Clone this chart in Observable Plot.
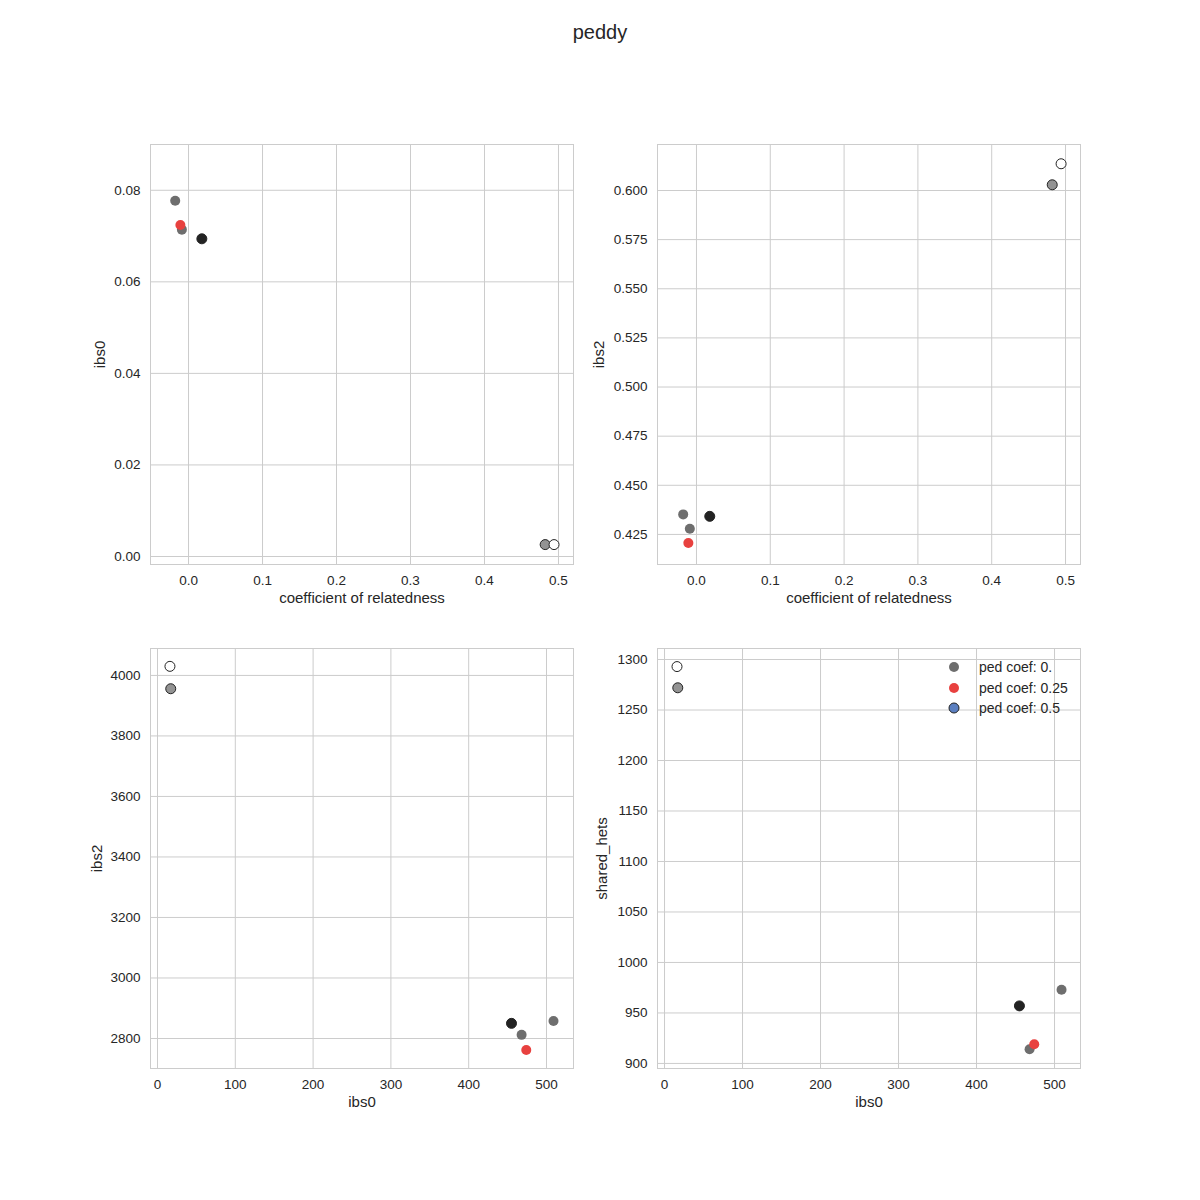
<!DOCTYPE html>
<html>
<head>
<meta charset="utf-8">
<script src="https://cdn.jsdelivr.net/npm/d3@7"></script>
<script src="https://cdn.jsdelivr.net/npm/@observablehq/plot@0.6"></script>
<style>
  body { margin: 0; background: #fff; font-family: "Liberation Sans", Arial, sans-serif; }
  #wrap { position: relative; width: 1200px; height: 1200px; overflow: hidden; }
  #title { position: absolute; top: 20px; left: 0; width: 1200px; text-align: center; font-size: 20px; line-height: 24px; color: #262626; }
  .panel { position: absolute; }
  .legend { position: absolute; font-size: 14px; color: #262626; }
  .legend .row { position: absolute; white-space: nowrap; height: 20px; line-height: 20px; }
  .legend svg { position: absolute; left: 0; top: 0; }
  .legend span { position: absolute; left: 31px; top: 0; }
</style>
</head>
<body>
<div id="wrap">
  <div id="title">peddy</div>
</div>
<script>
// ---------------- data ----------------
const samplePairs  = ["pair1", "pair2", "pair3", "pair4", "pair5", "pair6"];
const pedCoef      = ["0.", "0.", "0.25", "0.5", "0.5", "0.5"];
const relatedness  = [-0.018, -0.009, -0.011, 0.018, 0.482, 0.494];
const ibs0Frac     = [0.0777, 0.0714, 0.0724, 0.0694, 0.0026, 0.0026];
const ibs2Frac     = [0.4352, 0.4279, 0.4206, 0.4342, 0.6029, 0.6136];
const ibs0Count    = [509, 468, 474, 455, 17, 16];
const ibs2Count    = [2858, 2812, 2762, 2850, 3956, 4030];
const sharedHets   = [973, 914, 919, 957, 1272, 1293];

const legendLabels = ["ped coef: 0.", "ped coef: 0.25", "ped coef: 0.5"];

const ticksRel     = [0, 0.1, 0.2, 0.3, 0.4, 0.5];
const ticksIbs0Fr  = [0, 0.02, 0.04, 0.06, 0.08];
const ticksIbs2Fr  = [0.425, 0.45, 0.475, 0.5, 0.525, 0.55, 0.575, 0.6];
const ticksIbs0Ct  = [0, 100, 200, 300, 400, 500];
const ticksIbs2Ct  = [2800, 3000, 3200, 3400, 3600, 3800, 4000];
const ticksHets    = [900, 950, 1000, 1050, 1100, 1150, 1200, 1250, 1300];

// ---------------- table ----------------
const rows = samplePairs.map((s, i) => ({
  pair: s, ped: pedCoef[i], rel: relatedness[i],
  ibs0f: ibs0Frac[i], ibs2f: ibs2Frac[i],
  ibs0: ibs0Count[i], ibs2: ibs2Count[i], hets: sharedHets[i]
}));
const plain = rows.filter(d => d.ped !== "0.5");
const edged = rows.filter(d => d.ped === "0.5");

const pairColors = ["#6e6e6e", "#6e6e6e", "#e8413f", "#232323", "#939393", "#ffffff"];
const legendFill = ["#6e6e6e", "#e8413f", "#5b7fc0"];
const legendStroke = [null, null, "#232323"];
const grid = "#cccccc";
const ink = "#262626";

function panel(o) {
  const chart = Plot.plot({
    width: 600, height: 520,
    marginLeft: o.ml, marginRight: 600 - o.ml - 423, marginTop: 44, marginBottom: 56,
    style: { fontFamily: '"Liberation Sans", Arial, sans-serif', fontSize: "13.5px", color: ink, background: "transparent", overflow: "visible" },
    x: { domain: o.xDomain, ticks: o.xTicks, tickFormat: o.xFmt, tickSize: 0, tickPadding: 11, label: null },
    y: { domain: o.yDomain, ticks: o.yTicks, tickFormat: o.yFmt, tickSize: 0, tickPadding: 10, label: null },
    color: { type: "ordinal", domain: samplePairs, range: pairColors },
    marks: [
      Plot.gridX(o.xTicks, { stroke: grid, strokeOpacity: 1, strokeWidth: 1 }),
      Plot.gridY(o.yTicks, { stroke: grid, strokeOpacity: 1, strokeWidth: 1 }),
      Plot.frame({ stroke: grid, strokeWidth: 1 }),
      Plot.dot(plain, { x: o.x, y: o.y, fill: "pair", r: 5 }),
      Plot.dot(edged, { x: o.x, y: o.y, fill: "pair", r: 5, stroke: "#232323", strokeWidth: 1 }),
      Plot.text([o.xLabel], { frameAnchor: "bottom", textAnchor: "middle", lineAnchor: "middle", dy: 34, fontSize: 15, fill: ink }),
      Plot.text([o.yLabel], { frameAnchor: "left", textAnchor: "middle", lineAnchor: "middle", dx: o.ylDx, rotate: -90, fontSize: 15, fill: ink })
    ]
  });
  const div = document.createElement("div");
  div.className = "panel";
  div.style.left = o.left + "px";
  div.style.top = o.top + "px";
  div.appendChild(chart);
  document.getElementById("wrap").appendChild(div);
}

const f1 = d3.format(".1f"), f2 = d3.format(".2f"), f3 = d3.format(".3f"), fd = d3.format("d");

panel({ left: 0, top: 100, ml: 150, x: "rel", y: "ibs0f",
  xDomain: [-0.0514, 0.5203], yDomain: [-0.00175, 0.0900],
  xTicks: ticksRel, yTicks: ticksIbs0Fr, xFmt: f1, yFmt: f2,
  xLabel: "coefficient of relatedness", yLabel: "ibs0", ylDx: -50 });

panel({ left: 600, top: 100, ml: 57, x: "rel", y: "ibs2f",
  xDomain: [-0.0528, 0.5203], yDomain: [0.4097, 0.6234],
  xTicks: ticksRel, yTicks: ticksIbs2Fr, xFmt: f1, yFmt: f3,
  xLabel: "coefficient of relatedness", yLabel: "ibs2", ylDx: -58 });

panel({ left: 0, top: 604, ml: 150, x: "ibs0", y: "ibs2",
  xDomain: [-9.0, 534.7], yDomain: [2700.8, 4089],
  xTicks: ticksIbs0Ct, yTicks: ticksIbs2Ct, xFmt: fd, yFmt: fd,
  xLabel: "ibs0", yLabel: "ibs2", ylDx: -53 });

panel({ left: 600, top: 604, ml: 57, x: "ibs0", y: "hets",
  xDomain: [-9.0, 533.3], yDomain: [895, 1310.9],
  xTicks: ticksIbs0Ct, yTicks: ticksHets, xFmt: fd, yFmt: fd,
  xLabel: "ibs0", yLabel: "shared_hets", ylDx: -55 });

// legend inside lower-right panel
const leg = document.createElement("div");
leg.className = "legend";
leg.style.left = "948px";
leg.style.top = "657px";
legendLabels.forEach((lab, i) => {
  const row = document.createElement("div");
  row.className = "row";
  row.style.top = (i * 20.5) + "px";
  const stroke = legendStroke[i];
  row.innerHTML = `<svg width="14" height="20"><circle cx="6" cy="10" r="5" fill="${legendFill[i]}" ${stroke ? `stroke="${stroke}" stroke-width="1"` : ""}></circle></svg><span>${lab}</span>`;
  leg.appendChild(row);
});
document.getElementById("wrap").appendChild(leg);
</script>
</body>
</html>
